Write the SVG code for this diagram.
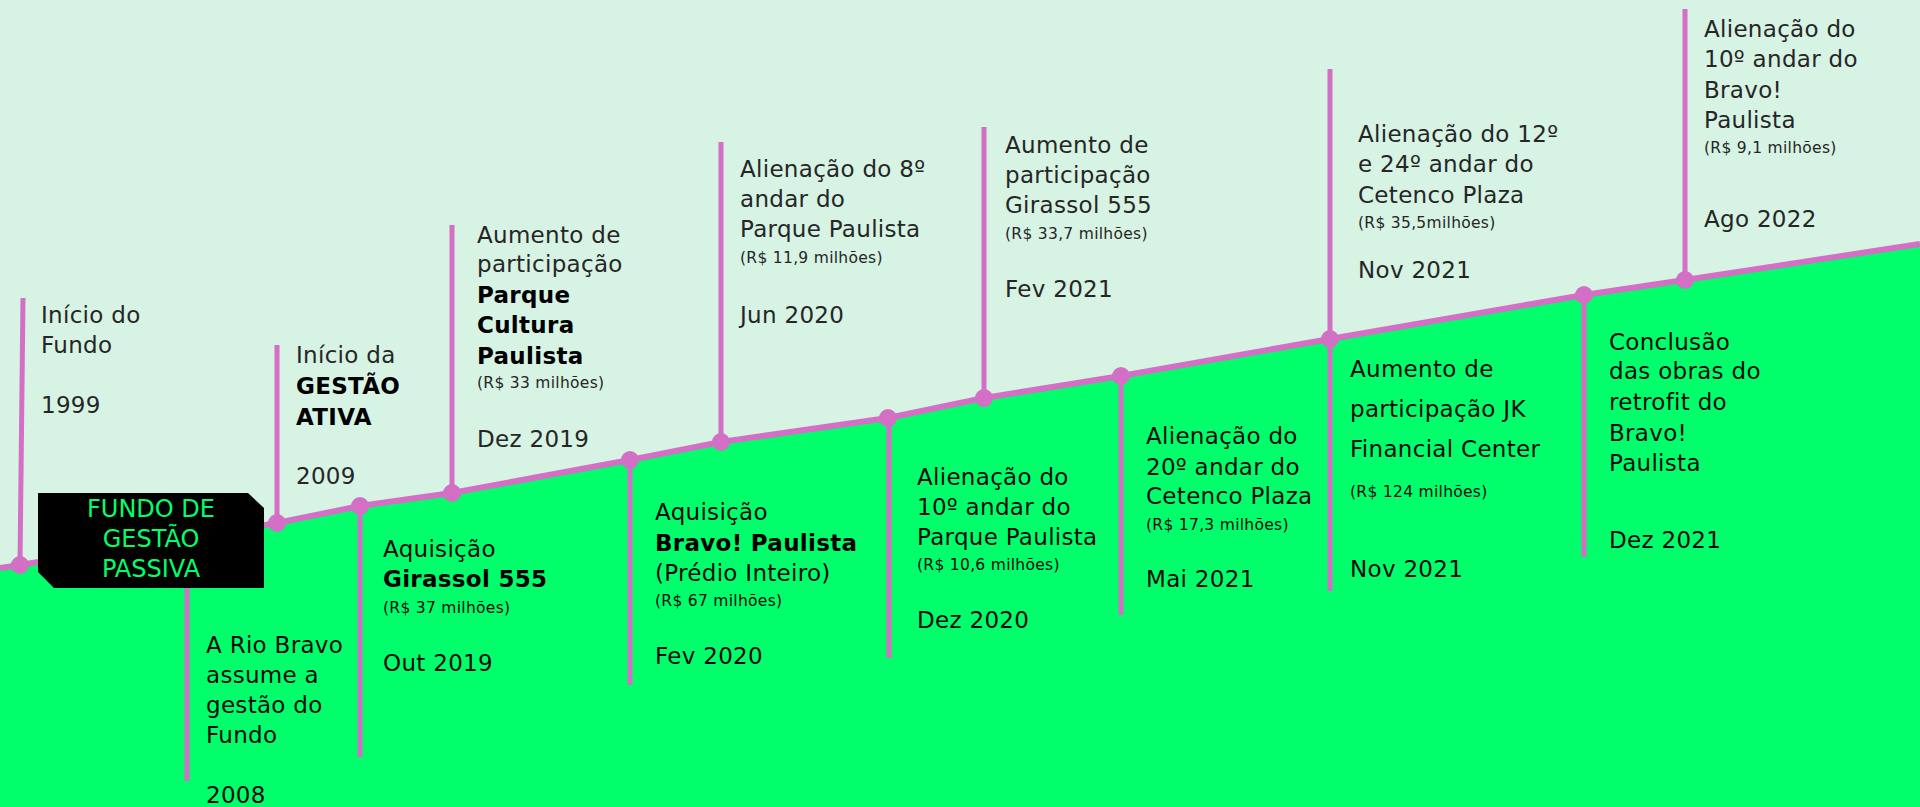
<svg xmlns="http://www.w3.org/2000/svg" width="1920" height="807" viewBox="0 0 1920 807">
<style>
text{font-family:"DejaVu Sans","Liberation Sans",sans-serif;font-size:23px;letter-spacing:0.3px}
.t{fill:#262626}
.b{fill:#0a0a0a}
.bold{font-weight:bold;fill:#000}
.s{font-size:15.5px}
.box{font-size:24px;fill:#00ff6b;text-anchor:middle;letter-spacing:0}
.stem{stroke:#d36fc5;stroke-width:5;fill:none}
.dot{fill:#d36fc5}
</style>
<rect width="1920" height="807" fill="#d6f3e4"/>
<polygon fill="#00ff6b" points="0,568 20,565 277,523 360,506 452,493 630,460 721,442 888,418 984,398 1121,376 1330,339 1584,295 1685,280 1920,244 1920,807 0,807"/>
<g id="connectors">
<polyline fill="none" stroke="#d36fc5" stroke-width="6" points="0,568 20,565 277,523 360,506 452,493 630,460 721,442 888,418 984,398 1121,376 1330,339 1584,295 1685,280 1920,244"/>
<line class="stem" x1="23" y1="298" x2="20" y2="565"/>
<line class="stem" x1="277" y1="345" x2="277" y2="523"/>
<line class="stem" x1="187" y1="540" x2="187" y2="781"/>
<line class="stem" x1="360" y1="506" x2="360" y2="757"/>
<line class="stem" x1="452" y1="225" x2="452" y2="493"/>
<line class="stem" x1="630" y1="460" x2="630" y2="685"/>
<line class="stem" x1="721" y1="142" x2="721" y2="442"/>
<line class="stem" x1="889" y1="418" x2="889" y2="658"/>
<line class="stem" x1="984" y1="127" x2="984" y2="398"/>
<line class="stem" x1="1121" y1="376" x2="1121" y2="615"/>
<line class="stem" x1="1330" y1="69" x2="1330" y2="591"/>
<line class="stem" x1="1584" y1="295" x2="1584" y2="557"/>
<line class="stem" x1="1685" y1="9" x2="1685" y2="280"/>
</g>
<g id="n1999">
<circle class="dot" cx="20" cy="565" r="9"/>
<text class="t" x="41" y="323">Início do</text>
<text class="t" x="41" y="353">Fundo</text>
<text class="t" x="41" y="413">1999</text>
</g>
<g id="n2009">
<circle class="dot" cx="277" cy="523" r="9"/>
<text class="t" x="296" y="363">Início da</text>
<text class="bold" x="296" y="394">GESTÃO</text>
<text class="bold" x="296" y="425">ATIVA</text>
<text class="t" x="296" y="484">2009</text>
</g>
<g id="passiva">
<polygon fill="#000" points="38,493 248,493 264,508 264,588 54,588 38,572"/>
<text class="box" x="151" y="517">FUNDO DE</text>
<text class="box" x="151" y="547">GESTÃO</text>
<text class="box" x="151" y="577">PASSIVA</text>
</g>
<g id="n2008">
<text class="b" x="206" y="653">A Rio Bravo</text>
<text class="b" x="206" y="683">assume a</text>
<text class="b" x="206" y="713">gestão do</text>
<text class="b" x="206" y="743">Fundo</text>
<text class="b" x="206" y="803">2008</text>
</g>
<g id="n2019out">
<circle class="dot" cx="360" cy="506" r="9"/>
<text class="b" x="383" y="557">Aquisição</text>
<text class="bold" x="383" y="587">Girassol 555</text>
<text class="b s" x="383" y="613">(R$ 37 milhões)</text>
<text class="b" x="383" y="671">Out 2019</text>
</g>
<g id="n2019dez">
<circle class="dot" cx="452" cy="493" r="9"/>
<text class="t" x="477" y="243">Aumento de</text>
<text class="t" x="477" y="272">participação</text>
<text class="bold" x="477" y="303">Parque</text>
<text class="bold" x="477" y="333">Cultura</text>
<text class="bold" x="477" y="364">Paulista</text>
<text class="t s" x="477" y="388">(R$ 33 milhões)</text>
<text class="t" x="477" y="447">Dez 2019</text>
</g>
<g id="n2020fev">
<circle class="dot" cx="630" cy="460" r="9"/>
<text class="b" x="655" y="520">Aquisição</text>
<text class="bold" x="655" y="551">Bravo! Paulista</text>
<text class="b" x="655" y="581">(Prédio Inteiro)</text>
<text class="b s" x="655" y="606">(R$ 67 milhões)</text>
<text class="b" x="655" y="664">Fev 2020</text>
</g>
<g id="n2020jun">
<circle class="dot" cx="721" cy="442" r="9"/>
<text class="t" x="740" y="177">Alienação do 8º</text>
<text class="t" x="740" y="207">andar do</text>
<text class="t" x="740" y="237">Parque Paulista</text>
<text class="t s" x="740" y="263">(R$ 11,9 milhões)</text>
<text class="t" x="740" y="323">Jun 2020</text>
</g>
<g id="n2020dez">
<circle class="dot" cx="888" cy="418" r="9"/>
<text class="b" x="917" y="485">Alienação do</text>
<text class="b" x="917" y="515">10º andar do</text>
<text class="b" x="917" y="545">Parque Paulista</text>
<text class="b s" x="917" y="570">(R$ 10,6 milhões)</text>
<text class="b" x="917" y="628">Dez 2020</text>
</g>
<g id="n2021fev">
<circle class="dot" cx="984" cy="398" r="9"/>
<text class="t" x="1005" y="153">Aumento de</text>
<text class="t" x="1005" y="183">participação</text>
<text class="t" x="1005" y="213">Girassol 555</text>
<text class="t s" x="1005" y="239">(R$ 33,7 milhões)</text>
<text class="t" x="1005" y="297">Fev 2021</text>
</g>
<g id="n2021mai">
<circle class="dot" cx="1121" cy="376" r="9"/>
<text class="b" x="1146" y="444">Alienação do</text>
<text class="b" x="1146" y="475">20º andar do</text>
<text class="b" x="1146" y="504">Cetenco Plaza</text>
<text class="b s" x="1146" y="530">(R$ 17,3 milhões)</text>
<text class="b" x="1146" y="587">Mai 2021</text>
</g>
<g id="n2021nov">
<circle class="dot" cx="1330" cy="339" r="9"/>
<text class="t" x="1358" y="142">Alienação do 12º</text>
<text class="t" x="1358" y="172">e 24º andar do</text>
<text class="t" x="1358" y="203">Cetenco Plaza</text>
<text class="t s" x="1358" y="228">(R$ 35,5milhões)</text>
<text class="t" x="1358" y="278">Nov 2021</text>
<text class="b" x="1350" y="377">Aumento de</text>
<text class="b" x="1350" y="417">participação JK</text>
<text class="b" x="1350" y="457">Financial Center</text>
<text class="b s" x="1350" y="497">(R$ 124 milhões)</text>
<text class="b" x="1350" y="577">Nov 2021</text>
</g>
<g id="n2021dez">
<circle class="dot" cx="1584" cy="295" r="9"/>
<text class="b" x="1609" y="350">Conclusão</text>
<text class="b" x="1609" y="379">das obras do</text>
<text class="b" x="1609" y="410">retrofit do</text>
<text class="b" x="1609" y="441">Bravo!</text>
<text class="b" x="1609" y="471">Paulista</text>
<text class="b" x="1609" y="548">Dez 2021</text>
</g>
<g id="n2022ago">
<circle class="dot" cx="1685" cy="280" r="9"/>
<text class="t" x="1704" y="37">Alienação do</text>
<text class="t" x="1704" y="67">10º andar do</text>
<text class="t" x="1704" y="98">Bravo!</text>
<text class="t" x="1704" y="128">Paulista</text>
<text class="t s" x="1704" y="153">(R$ 9,1 milhões)</text>
<text class="t" x="1704" y="227">Ago 2022</text>
</g>
</svg>
